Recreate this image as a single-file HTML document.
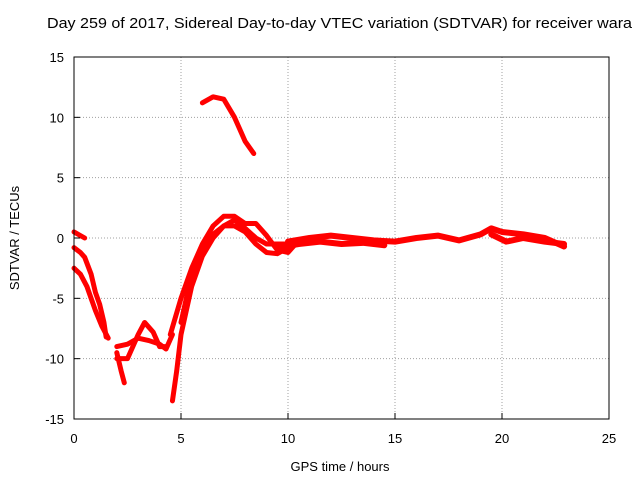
<!DOCTYPE html>
<html><head><meta charset="utf-8"><style>
body{margin:0;background:#fff}
svg text{font-family:"Liberation Sans",sans-serif;font-size:13px;fill:#000}
</style></head><body>
<svg width="640" height="480">
<rect width="640" height="480" fill="#fff"/>
<text x="47" y="28" style="font-size:15px" textLength="585" lengthAdjust="spacingAndGlyphs">Day 259 of 2017, Sidereal Day-to-day VTEC variation (SDTVAR) for receiver wara</text>
<g id="grid"></g>
<g id="series"></g>
<rect x="74" y="57" width="535" height="362" fill="none" stroke="#000"/>
<g id="axes"></g>
<text x="340" y="471" text-anchor="middle">GPS time / hours</text>
<text transform="translate(19,238) rotate(-90)" text-anchor="middle">SDTVAR / TECUs</text>
</svg>
<script>
const xTicks=[0,5,10,15,20,25];
const yTicks=[-15,-10,-5,0,5,10,15];
const s1x=[0,0.2,0.5],s1y=[0.5,0.3,0];
const s2x=[0,0.3,0.5,0.8,1.0,1.2,1.4,1.5],s2y=[-0.8,-1.2,-1.6,-3,-4.5,-5.5,-7,-8.2];
const s3x=[0,0.3,0.6,1.0,1.3,1.6],s3y=[-2.5,-3,-4,-6,-7.3,-8.3];
const s4x=[2.0,2.2,2.35],s4y=[-9.5,-11,-12];
const s5x=[2.0,2.5,3.0,3.5,4.0,4.3,4.6],s5y=[-9,-8.8,-8.3,-8.5,-8.8,-9.2,-8];
const s6x=[2.0,2.5,3.0,3.3,3.7,4.0,4.3],s6y=[-10,-10,-8,-7,-7.8,-9,-9];
const s7x=[4.6,4.8,5.0,5.5,6.0,6.5,7.0,7.5,8.0,8.5,9.0,9.5,10.0],s7y=[-13.5,-11,-8,-4,-1.5,0,1,1.5,0.8,0,-0.5,-0.5,-0.5];
const s8x=[4.5,5.0,5.5,6.0,6.5,7.0,7.5,8.0,8.5,9.0,9.5,10.0,10.5,11.0],s8y=[-8,-5,-2.5,-0.5,1,1.8,1.8,1.2,1.2,0.2,-1,-1.2,-0.2,0];
const s9x=[6.0,6.5,7.0,7.5,8.0,8.4],s9y=[11.2,11.7,11.5,10,8,7];
const s10x=[10,11,12,13,14,15,16,17,18,19,19.5,20,21,22,22.9],s10y=[-0.3,0,0.2,0,-0.2,-0.3,0,0.2,-0.2,0.3,0.8,0.5,0.3,0,-0.7];
const s11x=[9.5,10.5,11.5,12.5,13.5,14.5],s11y=[-0.8,-0.5,-0.3,-0.5,-0.4,-0.6];
const s12x=[19.5,20.2,21,22,22.9],s12y=[0.3,-0.3,0,-0.3,-0.5];
const s13x=[5.0,5.5,6.0,6.5,7.0,7.5,8.0,8.5,9.0,9.5,10.0],s13y=[-7,-3,-1,0.3,1,1,0.5,-0.5,-1.2,-1.3,-0.8];
const X=v=>74+v*535/25, Y=v=>238-v*362/30;
const NS="http://www.w3.org/2000/svg";
const grid=document.getElementById('grid'),axes=document.getElementById('axes'),ser=document.getElementById('series');
function mk(tag,attrs,parent){const e=document.createElementNS(NS,tag);for(const k in attrs)e.setAttribute(k,attrs[k]);parent.appendChild(e);return e;}
xTicks.forEach(t=>{
  if(t>0&&t<25){const g=mk('line',{x1:X(t),x2:X(t),y1:57,y2:419,stroke:'#a0a0a0','stroke-dasharray':'1,2'},grid);
  
  }
  const tk=mk('line',{x1:X(t),x2:X(t),y1:419,y2:413,stroke:'#000'},axes);
  
  
  const l=mk('text',{x:X(t),y:443,'text-anchor':'middle'},axes);l.textContent=t;
  
  
});
yTicks.forEach(t=>{
  if(t>-15&&t<15){const g=mk('line',{x1:74,x2:609,y1:Y(t),y2:Y(t),stroke:'#a0a0a0','stroke-dasharray':'1,2'},grid);
  
  }
  const tk=mk('line',{x1:74,x2:80,y1:Y(t),y2:Y(t),stroke:'#000'},axes);
  
  
  const l=mk('text',{x:64,y:Y(t)+5,'text-anchor':'end'},axes);l.textContent=t;
  
  
});
const all=[[s1x,s1y],[s2x,s2y],[s3x,s3y],[s4x,s4y],[s5x,s5y],[s6x,s6y],[s7x,s7y],[s8x,s8y],[s9x,s9y],[s10x,s10y],[s11x,s11y],[s12x,s12y],[s13x,s13y]];
all.forEach((s,i)=>{
  const pts=s[0].map((x,j)=>X(x)+','+Y(s[1][j])).join(' ');
  const p=mk('polyline',{points:pts,fill:'none',stroke:'#ff0000','stroke-width':((i>=9&&i<=11)?6:5),'stroke-linejoin':'round','stroke-linecap':'round'},ser);
  
  
});
</script>
</body></html>
